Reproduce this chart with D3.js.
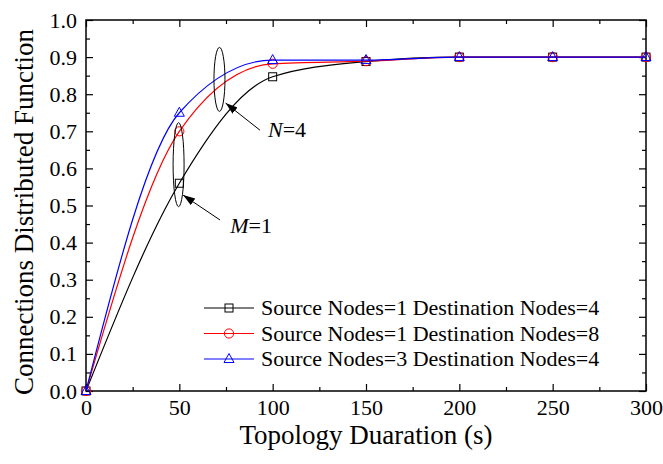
<!DOCTYPE html>
<html>
<head>
<meta charset="utf-8">
<script src="https://cdn.jsdelivr.net/npm/d3@7"></script>
<style>
  body { margin: 0; background: #fff; }
  svg { display: block; }
</style>
</head>
<body>
<svg></svg>
<script>
// data
let xValues = [0, 50, 100, 150, 200, 250, 300];
let seriesNames = ["Source Nodes=1 Destination Nodes=4", "Source Nodes=1 Destination Nodes=8", "Source Nodes=3 Destination Nodes=4"];
let seriesBlack = [0, 0.56, 0.847, 0.888, 0.9, 0.9, 0.9];
let seriesRed = [0, 0.70, 0.882, 0.889, 0.9, 0.9, 0.9];
let seriesBlue = [0, 0.75, 0.892, 0.892, 0.9, 0.9, 0.9];
let xTicks = [0, 50, 100, 150, 200, 250, 300];
let xMinorTicks = [25, 75, 125, 175, 225, 275];
let yTicks = [0, 0.1, 0.2, 0.3, 0.4, 0.5, 0.6, 0.7, 0.8, 0.9, 1.0];
let yMinorTicks = [0.05, 0.15, 0.25, 0.35, 0.45, 0.55, 0.65, 0.75, 0.85, 0.95];

let width = 663;
let height = 464;
let plotLeft = 86, plotRight = 646, plotTop = 20, plotBottom = 391;
let font = "'Liberation Serif', 'Times New Roman', serif";

let svg = d3.select("svg").attr("width", width).attr("height", height);

let xScale = d3.scaleLinear().domain([0, 300]).range([plotLeft, plotRight]);
let yScale = d3.scaleLinear().domain([0, 1]).range([plotBottom, plotTop]);

let series = [
  { name: seriesNames[0], values: seriesBlack, color: "#000000", shape: "square" },
  { name: seriesNames[1], values: seriesRed, color: "#ff0000", shape: "circle" },
  { name: seriesNames[2], values: seriesBlue, color: "#0000ff", shape: "triangle" }
];

let drawShape = (g, shape, color) => {
  if (shape === "square") {
    g.append("rect").attr("x", -4).attr("y", -4).attr("width", 8).attr("height", 8)
      .attr("fill", "none").attr("stroke", color).attr("stroke-width", 1);
  } else if (shape === "circle") {
    g.append("circle").attr("r", 4.6)
      .attr("fill", "none").attr("stroke", color).attr("stroke-width", 1);
  } else {
    g.append("path").attr("d", "M0,-5.5L5,3.5L-5,3.5Z")
      .attr("fill", "none").attr("stroke", color).attr("stroke-width", 1);
  }
};

// axes (ticks inside, mirrored on top and right)
let styleAxis = (g) => {
  g.attr("font-family", font).attr("font-size", 22);
  g.selectAll("text").attr("fill", "#000");
  g.selectAll("line").attr("stroke", "#000").attr("stroke-width", 1.2);
  g.select(".domain").remove();
};

svg.append("g").attr("transform", "translate(0," + plotBottom + ")")
  .call(d3.axisBottom(xScale).tickValues(xTicks).tickSize(-7).tickPadding(8).tickFormat(d3.format("d")))
  .call(styleAxis);
svg.append("g").attr("transform", "translate(0," + plotBottom + ")")
  .call(d3.axisBottom(xScale).tickValues(xMinorTicks).tickSize(-4).tickFormat(""))
  .call(styleAxis);
svg.append("g").attr("transform", "translate(0," + plotTop + ")")
  .call(d3.axisTop(xScale).tickValues(xTicks).tickSize(-7).tickFormat(""))
  .call(styleAxis);
svg.append("g").attr("transform", "translate(0," + plotTop + ")")
  .call(d3.axisTop(xScale).tickValues(xMinorTicks).tickSize(-4).tickFormat(""))
  .call(styleAxis);

svg.append("g").attr("transform", "translate(" + plotLeft + ",0)")
  .call(d3.axisLeft(yScale).tickValues(yTicks).tickSize(-7).tickPadding(9).tickFormat(d3.format(".1f")))
  .call(styleAxis);
svg.append("g").attr("transform", "translate(" + plotLeft + ",0)")
  .call(d3.axisLeft(yScale).tickValues(yMinorTicks).tickSize(-4).tickFormat(""))
  .call(styleAxis);
svg.append("g").attr("transform", "translate(" + plotRight + ",0)")
  .call(d3.axisRight(yScale).tickValues(yTicks).tickSize(-7).tickFormat(""))
  .call(styleAxis);
svg.append("g").attr("transform", "translate(" + plotRight + ",0)")
  .call(d3.axisRight(yScale).tickValues(yMinorTicks).tickSize(-4).tickFormat(""))
  .call(styleAxis);

svg.append("rect")
  .attr("x", plotLeft).attr("y", plotTop)
  .attr("width", plotRight - plotLeft).attr("height", plotBottom - plotTop)
  .attr("fill", "none").attr("stroke", "#000").attr("stroke-width", 1.5);

// curves
let line = d3.line()
  .x((d, i) => xScale(xValues[i]))
  .y((d) => yScale(d))
  .curve(d3.curveMonotoneX);

series.forEach((s) => {
  svg.append("path")
    .attr("d", line(s.values))
    .attr("fill", "none")
    .attr("stroke", s.color)
    .attr("stroke-width", 1.2);
  s.values.forEach((v, i) => {
    let g = svg.append("g").attr("transform", "translate(" + xScale(xValues[i]) + "," + yScale(v) + ")");
    drawShape(g, s.shape, s.color);
  });
});

// annotations
let arrowHead = svg.append("defs").append("marker")
  .attr("id", "arrow")
  .attr("markerUnits", "userSpaceOnUse")
  .attr("markerWidth", 14).attr("markerHeight", 10)
  .attr("refX", 12).attr("refY", 4)
  .attr("orient", "auto");
arrowHead.append("path").attr("d", "M0,0L12,4L0,8Z").attr("fill", "#000");

let ellipses = [
  { x: 71.5, y: 0.84, rx: 5.5, ry: 32 },
  { x: 49.6, y: 0.61, rx: 5.5, ry: 42 }
];
ellipses.forEach((e) => {
  svg.append("ellipse")
    .attr("cx", xScale(e.x)).attr("cy", yScale(e.y))
    .attr("rx", e.rx).attr("ry", e.ry)
    .attr("fill", "none").attr("stroke", "#000").attr("stroke-width", 1);
});

let arrows = [
  { x1: 93.2, y1: 0.703, x2: 74.8, y2: 0.776 },
  { x1: 71.8, y1: 0.461, x2: 52.0, y2: 0.528 }
];
arrows.forEach((a) => {
  svg.append("line")
    .attr("x1", xScale(a.x1)).attr("y1", yScale(a.y1))
    .attr("x2", xScale(a.x2)).attr("y2", yScale(a.y2))
    .attr("stroke", "#000").attr("stroke-width", 1)
    .attr("marker-end", "url(#arrow)");
});

let labels = [
  { x: 97.5, y: 0.685, letter: "N", rest: "=4" },
  { x: 77.3, y: 0.426, letter: "M", rest: "=1" }
];
labels.forEach((l) => {
  let t = svg.append("text")
    .attr("x", xScale(l.x)).attr("y", yScale(l.y))
    .attr("font-family", font).attr("font-size", 22);
  t.append("tspan").attr("font-style", "italic").text(l.letter);
  t.append("tspan").text(l.rest);
});

// legend
let legendRows = [308, 333.5, 359];
series.forEach((s, i) => {
  let g = svg.append("g").attr("transform", "translate(204," + legendRows[i] + ")");
  g.append("line").attr("x1", 0).attr("x2", 50).attr("y1", 0).attr("y2", 0)
    .attr("stroke", s.color).attr("stroke-width", 1.2);
  let m = g.append("g").attr("transform", "translate(25,0)");
  drawShape(m, s.shape, s.color);
  g.append("text").attr("x", 57).attr("y", 7)
    .attr("font-family", font).attr("font-size", 22)
    .text(s.name);
});

// axis titles
svg.append("text")
  .attr("x", (plotLeft + plotRight) / 2).attr("y", 444)
  .attr("text-anchor", "middle")
  .attr("font-family", font).attr("font-size", 27)
  .text("Topology Duaration (s)");

svg.append("text")
  .attr("transform", "translate(33,212) rotate(-90)")
  .attr("text-anchor", "middle")
  .attr("font-family", font).attr("font-size", 27)
  .text("Connections Distributed Function");
</script>
</body>
</html>
